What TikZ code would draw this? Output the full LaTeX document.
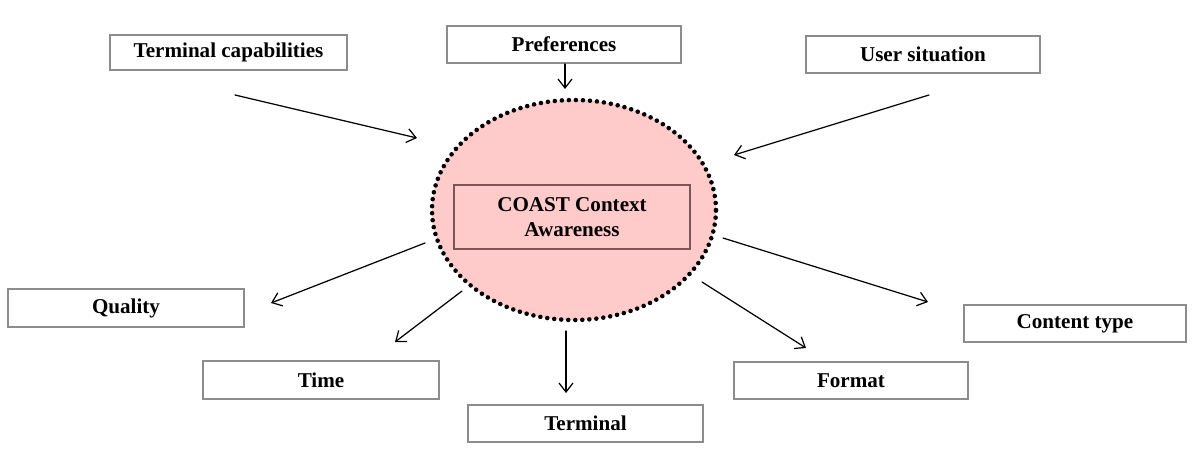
\documentclass[tikz,border=0pt]{standalone}
\usepackage{fontspec}
\setmainfont{Liberation Serif}
\usepackage{tkz-euclide}
\usetikzlibrary{arrows.meta}

\definecolor{blush}{RGB}{255,202,202}
\definecolor{rimgray}{RGB}{140,140,140}
\definecolor{rimbrown}{RGB}{125,85,85}

\tikzset{
  box/.style={draw=rimgray, line width=0.8pt, fill=white, minimum width=4.7cm,
    minimum height=0.74cm, inner sep=0pt, font=\fontsize{12}{14}\selectfont\bfseries},
  arr/.style={line width=0.7pt, -{Straight Barb[length=1.8mm,width=2.8mm]}}
}

\begin{document}
\begin{tikzpicture}
\useasboundingbox (0,0) rectangle (23.86,9.02);

\tkzDefPoint(11.48,4.82){ZERO}
\draw[fill=blush, line width=2.6pt, dash pattern=on 0pt off 4pt, line cap=round]
  (ZERO) ellipse (2.84 and 2.20);

\node[box, draw=rimbrown, minimum width=4.72cm, minimum height=1.28cm, fill=none,
  align=center] (coast) at (11.44,4.68) {COAST Context\\Awareness};

% inputs
\node[box, minimum width=4.74cm, minimum height=0.70cm] (tcap) at (4.57,7.97) {Terminal capabilities};
\node[box, minimum width=4.68cm] (pref) at (11.28,8.13) {Preferences};
\node[box, minimum width=4.68cm] (usit) at (18.46,7.93) {User situation};

% outputs
\node[box, minimum width=4.72cm, minimum height=0.76cm] (qual) at (2.52,2.86) {Quality};
\node[box, minimum width=4.72cm, minimum height=0.76cm] (time) at (6.42,1.42) {Time};
\node[box] (term) at (11.71,0.55) {Terminal};
\node[box, minimum width=4.68cm] (form) at (17.02,1.41) {Format};
\node[box, minimum width=4.44cm] (ctyp) at (21.50,2.55) {Content type};

  \tkzDefPoint(4.70,7.12){tA}
  \tkzDefPoint(8.34,6.26){tB}
\tkzDrawSegment[arr](tA,tB)

  \tkzDefPoint(11.30,7.74){pA}
  \tkzDefPoint(11.30,7.24){pB}
\tkzDrawSegment[arr](pA,pB)

  \tkzDefPoint(18.58,7.12){uA}
  \tkzDefPoint(14.68,5.92){uB}
\tkzDrawSegment[arr](uA,uB)

  \tkzDefPoint(8.50,4.16){qA}
  \tkzDefPoint(5.42,2.96){qB}
\tkzDrawSegment[arr](qA,qB)

  \tkzDefPoint(9.24,3.20){mA}
  \tkzDefPoint(7.90,2.18){mB}
\tkzDrawSegment[arr](mA,mB)

  \tkzDefPoint(11.32,2.40){rA}
  \tkzDefPoint(11.32,1.16){rB}
\tkzDrawSegment[arr](rA,rB)

  \tkzDefPoint(14.04,3.38){fA}
  \tkzDefPoint(16.12,2.06){fB}
\tkzDrawSegment[arr](fA,fB)

  \tkzDefPoint(14.46,4.26){cA}
  \tkzDefPoint(18.56,2.98){cB}
\tkzDrawSegment[arr](cA,cB)

\end{tikzpicture}
\end{document}
